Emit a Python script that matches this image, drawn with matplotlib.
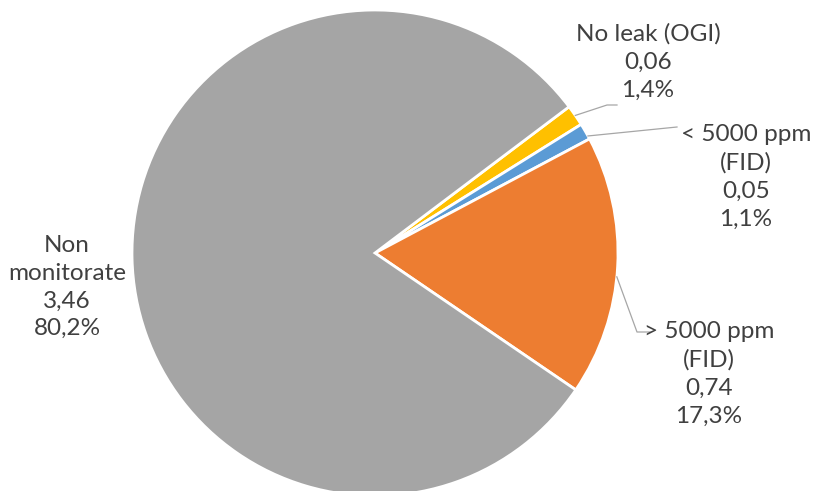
import numpy as np
import matplotlib.pyplot as plt

# slices, in clockwise order from the top-right
labels = ["No leak (OGI)", "< 5000 ppm\n(FID)", "> 5000 ppm\n(FID)", "Non\nmonitorate"]
values = [0.06, 0.05, 0.74, 3.46]
percents = [1.4, 1.1, 17.3, 80.2]
colors = ["#FFC000", "#5B9BD5", "#ED7D31", "#A5A5A5"]

W, H = 817, 491
fig = plt.figure(figsize=(W / 100, H / 100), dpi=100)
ax = fig.add_axes([0, 0, 1, 1])

cx, cy, r = 375, H - 253, 243
start = 37.0
wedges, _ = ax.pie(percents, colors=colors, startangle=start, counterclock=False,
                   center=(cx, cy), radius=r, frame=True,
                   wedgeprops=dict(edgecolor="white", linewidth=2))
ax.set_xlim(0, W)
ax.set_ylim(0, H)
ax.set_aspect("equal")
ax.axis("off")

def fmt(v, nd):
    return f"{v:.{nd}f}".replace(".", ",")

# label centres (x, y from top)
label_pos = [(648, 62), (746, 177), (709, 374), (67, 287)]
txt_kw = dict(ha="center", va="center", fontsize=17.5, color="#404040",
              family="Lato", linespacing=1.4)
for i, (lab, v, p) in enumerate(zip(labels, values, percents)):
    x, y = label_pos[i]
    ax.text(x, H - y, f"{lab}\n{fmt(v, 2)}\n{fmt(p, 1)}%", **txt_kw)

# leader lines from the wedge edges
def edge_pt(w, frac=0.5, rr=r):
    a = np.deg2rad(w.theta1 + (w.theta2 - w.theta1) * frac)
    return cx + rr * np.cos(a), cy + rr * np.sin(a)

line_kw = dict(color="#A6A6A6", lw=0.9)
x0, y0 = edge_pt(wedges[0])
ax.plot([x0, 607, 617], [y0, H - 105, H - 105], **line_kw)
x0, y0 = edge_pt(wedges[1], 0.2)
ax.plot([x0, 677], [y0, H - 127], **line_kw)
x0, y0 = edge_pt(wedges[2], 0.46)
ax.plot([x0, 637, 650], [y0, H - 332, H - 332], **line_kw)

fig.savefig("out.png", dpi=100)
